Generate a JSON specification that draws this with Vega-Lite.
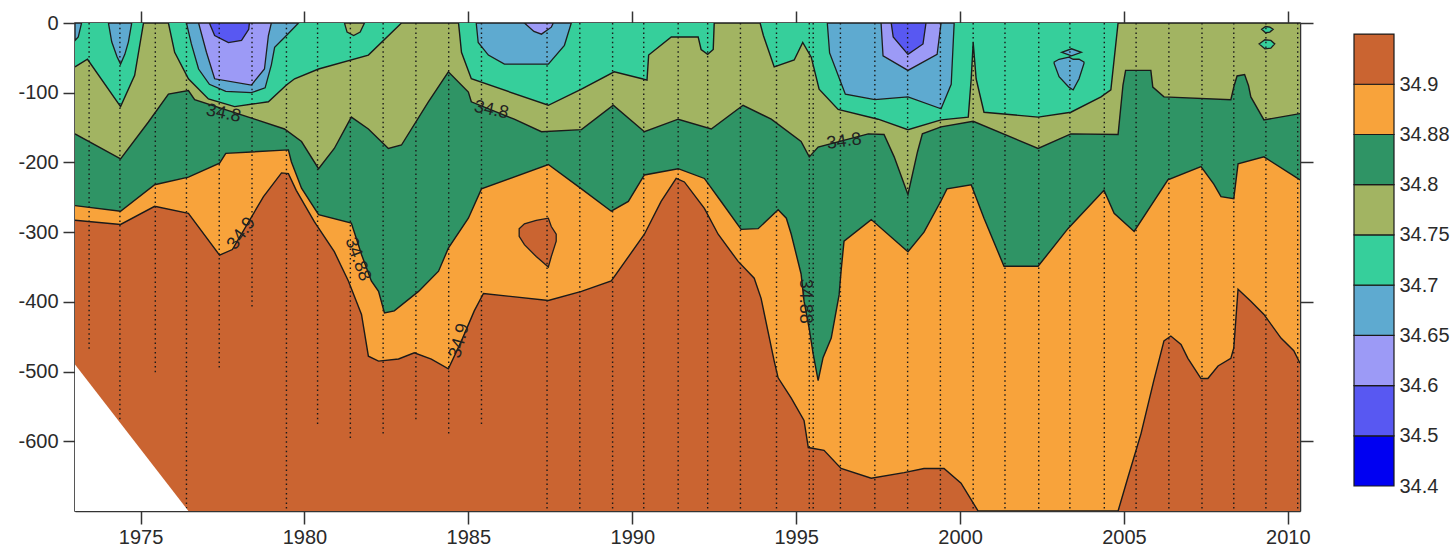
{
  "$schema": "https://vega.github.io/schema/vega-lite/v6.json",
  "padding": {"left": 17, "top": 9, "right": 0, "bottom": 0},
  "background": "white",
  "config": {
    "view": {"stroke": null},
    "font": "Liberation Sans",
    "axis": {"labelFont": "Liberation Sans", "labelFontSize": 20, "labelColor": "#2a2a2a", "domainColor": "#333333", "tickColor": "#333333", "grid": false, "domainWidth": 1.5, "tickWidth": 1.5, "labelOverlap": false, "labelFlush": false, "labelBound": false}
  },
  "datasets": {
    "bg": [{"year": 1973.0, "d": -700}, {"year": 2010.37, "d": -700}],
    "tri": [{"year": 1973.0, "top": -490, "bot": -700}, {"year": 1976.46, "top": -700, "bot": -700}],
    "c75": [
      {"year": 1973.0, "d": -63}, {"year": 1973.38, "d": -52}, {"year": 1974.39, "d": -120}, {"year": 1974.82, "d": -75},
      {"year": 1975.09, "d": 0}, {"year": 1975.85, "d": 0}, {"year": 1976.04, "d": -42}, {"year": 1976.46, "d": -80},
      {"year": 1977.07, "d": -109}, {"year": 1977.87, "d": -120}, {"year": 1978.9, "d": -113}, {"year": 1979.45, "d": -89},
      {"year": 1979.7, "d": -80}, {"year": 1980.43, "d": -66}, {"year": 1981.95, "d": -46}, {"year": 1982.96, "d": 0},
      {"year": 1984.7, "d": 0}, {"year": 1984.79, "d": -42}, {"year": 1985.09, "d": -80}, {"year": 1987.44, "d": -118},
      {"year": 1988.45, "d": -95}, {"year": 1989.45, "d": -70}, {"year": 1990.3, "d": -80}, {"year": 1990.45, "d": -82},
      {"year": 1990.5, "d": -46}, {"year": 1991.19, "d": -20}, {"year": 1992.01, "d": -20}, {"year": 1992.1, "d": -38},
      {"year": 1992.3, "d": -45}, {"year": 1992.47, "d": -38}, {"year": 1992.5, "d": 0}, {"year": 1993.9, "d": 0},
      {"year": 1994.0, "d": -18}, {"year": 1994.33, "d": -63}, {"year": 1994.94, "d": -53}, {"year": 1995.2, "d": -28},
      {"year": 1995.46, "d": -49}, {"year": 1995.7, "d": -95}, {"year": 1996.28, "d": -124}, {"year": 1997.5, "d": -138},
      {"year": 1998.41, "d": -153}, {"year": 1999.42, "d": -139}, {"year": 2000.25, "d": -135},
      {"year": 2000.34, "d": -80}, {"year": 2000.4, "d": -28}, {"year": 2000.49, "d": -80},
      {"year": 2000.73, "d": -128}, {"year": 2002.38, "d": -135}, {"year": 2003.38, "d": -128}, {"year": 2004.3, "d": -106},
      {"year": 2004.6, "d": -96}, {"year": 2004.82, "d": 0}, {"year": 2010.37, "d": 0}
    ],
    "c80": [
      {"year": 1973.0, "d": -159}, {"year": 1974.39, "d": -195}, {"year": 1975.24, "d": -142}, {"year": 1975.85, "d": -102},
      {"year": 1976.46, "d": -97}, {"year": 1976.65, "d": -110}, {"year": 1978.48, "d": -138}, {"year": 1979.39, "d": -152},
      {"year": 1979.91, "d": -170}, {"year": 1980.43, "d": -209}, {"year": 1980.91, "d": -180}, {"year": 1981.43, "d": -135},
      {"year": 1981.95, "d": -152}, {"year": 1982.56, "d": -180}, {"year": 1982.96, "d": -175}, {"year": 1983.78, "d": -113},
      {"year": 1984.39, "d": -70}, {"year": 1985.0, "d": -99}, {"year": 1985.09, "d": -113}, {"year": 1986.4, "d": -138},
      {"year": 1987.23, "d": -156}, {"year": 1988.45, "d": -153}, {"year": 1989.42, "d": -118}, {"year": 1990.37, "d": -156},
      {"year": 1991.4, "d": -138}, {"year": 1992.41, "d": -152}, {"year": 1993.38, "d": -118}, {"year": 1994.24, "d": -138},
      {"year": 1995.15, "d": -170}, {"year": 1995.4, "d": -192}, {"year": 1995.67, "d": -178}, {"year": 1997.2, "d": -159},
      {"year": 1997.68, "d": -160}, {"year": 1997.99, "d": -192}, {"year": 1998.41, "d": -246}, {"year": 1998.7, "d": -185},
      {"year": 1998.85, "d": -159}, {"year": 1999.42, "d": -149}, {"year": 2000.4, "d": -141},
      {"year": 2002.38, "d": -180}, {"year": 2003.38, "d": -159}, {"year": 2004.82, "d": -160}, {"year": 2004.97, "d": -89},
      {"year": 2005.05, "d": -68}, {"year": 2005.82, "d": -68}, {"year": 2005.88, "d": -92}, {"year": 2006.22, "d": -106},
      {"year": 2008.26, "d": -110}, {"year": 2008.36, "d": -90}, {"year": 2008.45, "d": -76}, {"year": 2008.68, "d": -74},
      {"year": 2008.8, "d": -90}, {"year": 2008.87, "d": -106}, {"year": 2009.27, "d": -139}, {"year": 2010.37, "d": -130}
    ],
    "c88": [
      {"year": 1973.0, "d": -262}, {"year": 1974.39, "d": -270}, {"year": 1975.43, "d": -232}, {"year": 1976.46, "d": -221},
      {"year": 1977.41, "d": -201}, {"year": 1977.6, "d": -187}, {"year": 1979.51, "d": -182}, {"year": 1979.6, "d": -199},
      {"year": 1979.91, "d": -237}, {"year": 1980.43, "d": -275}, {"year": 1981.43, "d": -287}, {"year": 1981.74, "d": -332},
      {"year": 1982.04, "d": -370}, {"year": 1982.26, "d": -385}, {"year": 1982.44, "d": -416}, {"year": 1982.74, "d": -413},
      {"year": 1983.48, "d": -385}, {"year": 1984.09, "d": -356}, {"year": 1984.39, "d": -323}, {"year": 1985.0, "d": -280},
      {"year": 1985.4, "d": -238}, {"year": 1987.44, "d": -203}, {"year": 1988.45, "d": -238}, {"year": 1989.36, "d": -270},
      {"year": 1989.88, "d": -256}, {"year": 1990.37, "d": -218}, {"year": 1991.4, "d": -209}, {"year": 1992.2, "d": -223},
      {"year": 1992.71, "d": -256}, {"year": 1993.32, "d": -296}, {"year": 1993.84, "d": -295}, {"year": 1994.45, "d": -268},
      {"year": 1994.7, "d": -280}, {"year": 1994.85, "d": -303}, {"year": 1995.15, "d": -360}, {"year": 1995.24, "d": -399},
      {"year": 1995.4, "d": -439}, {"year": 1995.52, "d": -475}, {"year": 1995.67, "d": -513}, {"year": 1995.82, "d": -480},
      {"year": 1996.07, "d": -452}, {"year": 1996.31, "d": -390}, {"year": 1996.37, "d": -356}, {"year": 1996.46, "d": -313},
      {"year": 1997.29, "d": -282}, {"year": 1998.41, "d": -328}, {"year": 1998.9, "d": -300}, {"year": 1999.42, "d": -255},
      {"year": 1999.6, "d": -238}, {"year": 2000.34, "d": -232}, {"year": 2000.73, "d": -280}, {"year": 2001.34, "d": -349},
      {"year": 2002.38, "d": -349}, {"year": 2003.29, "d": -295}, {"year": 2004.39, "d": -240}, {"year": 2004.7, "d": -273},
      {"year": 2005.31, "d": -299}, {"year": 2006.34, "d": -225}, {"year": 2007.35, "d": -206}, {"year": 2007.74, "d": -231},
      {"year": 2007.96, "d": -249}, {"year": 2008.35, "d": -252}, {"year": 2008.48, "d": -202}, {"year": 2009.27, "d": -192}, {"year": 2010.37, "d": -225}
    ],
    "c90": [
      {"year": 1973.0, "d": -283}, {"year": 1974.39, "d": -289}, {"year": 1975.43, "d": -263}, {"year": 1976.46, "d": -273},
      {"year": 1977.41, "d": -333}, {"year": 1977.8, "d": -325}, {"year": 1978.75, "d": -249}, {"year": 1979.3, "d": -215},
      {"year": 1979.51, "d": -216}, {"year": 1979.75, "d": -240}, {"year": 1980.3, "d": -285}, {"year": 1980.91, "d": -328},
      {"year": 1981.34, "d": -370}, {"year": 1981.74, "d": -418}, {"year": 1981.95, "d": -478}, {"year": 1982.26, "d": -485},
      {"year": 1982.87, "d": -482}, {"year": 1983.35, "d": -473}, {"year": 1983.87, "d": -482}, {"year": 1984.39, "d": -496},
      {"year": 1984.79, "d": -456}, {"year": 1985.18, "d": -413}, {"year": 1985.46, "d": -388}, {"year": 1987.44, "d": -398},
      {"year": 1988.45, "d": -385}, {"year": 1989.36, "d": -370}, {"year": 1990.37, "d": -303}, {"year": 1990.88, "d": -256},
      {"year": 1991.34, "d": -223}, {"year": 1991.59, "d": -228}, {"year": 1992.2, "d": -266}, {"year": 1992.62, "d": -303},
      {"year": 1993.23, "d": -342}, {"year": 1993.72, "d": -366}, {"year": 1993.93, "d": -395}, {"year": 1994.33, "d": -485},
      {"year": 1994.45, "d": -509}, {"year": 1994.85, "d": -538}, {"year": 1995.24, "d": -570}, {"year": 1995.37, "d": -609},
      {"year": 1995.85, "d": -613}, {"year": 1996.37, "d": -639}, {"year": 1997.29, "d": -653}, {"year": 1998.29, "d": -645},
      {"year": 1998.9, "d": -639}, {"year": 1999.51, "d": -639}, {"year": 2000.03, "d": -660}, {"year": 2000.55, "d": -700},
      {"year": 2004.82, "d": -700}, {"year": 2005.12, "d": -652}, {"year": 2005.52, "d": -589}, {"year": 2005.91, "d": -513},
      {"year": 2006.22, "d": -456}, {"year": 2006.43, "d": -449}, {"year": 2006.74, "d": -461}, {"year": 2006.95, "d": -481},
      {"year": 2007.35, "d": -510}, {"year": 2007.56, "d": -510}, {"year": 2007.87, "d": -492}, {"year": 2008.26, "d": -481},
      {"year": 2008.35, "d": -466}, {"year": 2008.48, "d": -382}, {"year": 2008.87, "d": -399}, {"year": 2009.27, "d": -418},
      {"year": 2009.79, "d": -452}, {"year": 2010.18, "d": -470}, {"year": 2010.37, "d": -488}
    ],
    "bBr": [
      {"id": "a", "year": 1986.55, "top": -295, "bot": -306}, {"id": "a", "year": 1986.71, "top": -288, "bot": -318},
      {"id": "a", "year": 1987.07, "top": -283, "bot": -335}, {"id": "a", "year": 1987.44, "top": -280, "bot": -350},
      {"id": "a", "year": 1987.53, "top": -292, "bot": -335}, {"id": "a", "year": 1987.68, "top": -303, "bot": -313}
    ],
    "bOl": [
      {"id": "a", "year": 1981.22, "top": 0, "bot": 0}, {"id": "a", "year": 1981.3, "top": 0, "bot": -13},
      {"id": "a", "year": 1981.5, "top": 0, "bot": -18}, {"id": "a", "year": 1981.7, "top": 0, "bot": -13},
      {"id": "a", "year": 1981.83, "top": 0, "bot": 0}
    ],
    "bTe": [
      {"id": "f1", "year": 2009.2, "top": -9, "bot": -9}, {"id": "f1", "year": 2009.32, "top": -5, "bot": -14},
      {"id": "f1", "year": 2009.45, "top": -6, "bot": -13}, {"id": "f1", "year": 2009.55, "top": -9, "bot": -9},
      {"id": "f2", "year": 2009.12, "top": -30, "bot": -30}, {"id": "f2", "year": 2009.3, "top": -24, "bot": -37},
      {"id": "f2", "year": 2009.48, "top": -25, "bot": -36}, {"id": "f2", "year": 2009.6, "top": -30, "bot": -30}
    ],
    "b70": [
      {"id": "a0", "year": 1973.0, "top": 0, "bot": -25}, {"id": "a0", "year": 1973.1, "top": 0, "bot": -20}, {"id": "a0", "year": 1973.2, "top": 0, "bot": 0},
      {"id": "a", "year": 1974.02, "top": 0, "bot": 0}, {"id": "a", "year": 1974.12, "top": 0, "bot": -27}, {"id": "a", "year": 1974.28, "top": 0, "bot": -48},
      {"id": "a", "year": 1974.39, "top": 0, "bot": -59}, {"id": "a", "year": 1974.52, "top": 0, "bot": -45}, {"id": "a", "year": 1974.63, "top": 0, "bot": -27},
      {"id": "a", "year": 1974.73, "top": 0, "bot": 0},
      {"id": "b", "year": 1976.4, "top": 0, "bot": 0}, {"id": "b", "year": 1976.55, "top": 0, "bot": -30}, {"id": "b", "year": 1976.77, "top": 0, "bot": -66},
      {"id": "b", "year": 1977.1, "top": 0, "bot": -88}, {"id": "b", "year": 1977.6, "top": 0, "bot": -98}, {"id": "b", "year": 1978.38, "top": 0, "bot": -100},
      {"id": "b", "year": 1978.8, "top": 0, "bot": -93}, {"id": "b", "year": 1978.99, "top": 0, "bot": -60}, {"id": "b", "year": 1979.09, "top": 0, "bot": -35},
      {"id": "b", "year": 1979.45, "top": 0, "bot": -18}, {"id": "b", "year": 1979.82, "top": 0, "bot": 0},
      {"id": "c", "year": 1985.24, "top": 0, "bot": 0}, {"id": "c", "year": 1985.3, "top": 0, "bot": -28}, {"id": "c", "year": 1985.61, "top": 0, "bot": -46},
      {"id": "c", "year": 1986.1, "top": 0, "bot": -59}, {"id": "c", "year": 1987.44, "top": 0, "bot": -59}, {"id": "c", "year": 1987.93, "top": 0, "bot": -32},
      {"id": "c", "year": 1988.14, "top": 0, "bot": 0},
      {"id": "d", "year": 1995.95, "top": 0, "bot": 0}, {"id": "d", "year": 1996.02, "top": 0, "bot": -43}, {"id": "d", "year": 1996.37, "top": 0, "bot": -86},
      {"id": "d", "year": 1996.5, "top": 0, "bot": -102}, {"id": "d", "year": 1997.4, "top": 0, "bot": -110}, {"id": "d", "year": 1998.41, "top": 0, "bot": -106},
      {"id": "d", "year": 1999.42, "top": 0, "bot": -123}, {"id": "d", "year": 1999.73, "top": 0, "bot": -88}, {"id": "d", "year": 1999.82, "top": 0, "bot": 0},
      {"id": "e", "year": 2002.87, "top": -56, "bot": -58}, {"id": "e", "year": 2003.02, "top": -52, "bot": -77}, {"id": "e", "year": 2003.32, "top": -49, "bot": -92},
      {"id": "e", "year": 2003.45, "top": -52, "bot": -96}, {"id": "e", "year": 2003.63, "top": -52, "bot": -80}, {"id": "e", "year": 2003.78, "top": -56, "bot": -58},
      {"id": "e2", "year": 2003.1, "top": -42, "bot": -42}, {"id": "e2", "year": 2003.4, "top": -37, "bot": -47}, {"id": "e2", "year": 2003.7, "top": -42, "bot": -42}
    ],
    "b65": [
      {"id": "b", "year": 1976.77, "top": 0, "bot": 0}, {"id": "b", "year": 1977.01, "top": 0, "bot": -42}, {"id": "b", "year": 1977.26, "top": 0, "bot": -80},
      {"id": "b", "year": 1978.38, "top": 0, "bot": -89}, {"id": "b", "year": 1978.78, "top": 0, "bot": -66}, {"id": "b", "year": 1978.9, "top": 0, "bot": -18},
      {"id": "b", "year": 1978.99, "top": 0, "bot": 0},
      {"id": "c", "year": 1986.71, "top": 0, "bot": 0}, {"id": "c", "year": 1987.0, "top": 0, "bot": -12}, {"id": "c", "year": 1987.23, "top": 0, "bot": -16},
      {"id": "c", "year": 1987.53, "top": 0, "bot": -6}, {"id": "c", "year": 1987.59, "top": 0, "bot": 0},
      {"id": "d", "year": 1997.59, "top": 0, "bot": 0}, {"id": "d", "year": 1997.65, "top": 0, "bot": -47}, {"id": "d", "year": 1998.41, "top": 0, "bot": -68},
      {"id": "d", "year": 1999.3, "top": 0, "bot": -45}, {"id": "d", "year": 1999.42, "top": 0, "bot": 0}
    ],
    "b60": [
      {"id": "b", "year": 1977.1, "top": 0, "bot": 0}, {"id": "b", "year": 1977.26, "top": 0, "bot": -18}, {"id": "b", "year": 1977.68, "top": 0, "bot": -28},
      {"id": "b", "year": 1978.08, "top": 0, "bot": -25}, {"id": "b", "year": 1978.3, "top": 0, "bot": -9}, {"id": "b", "year": 1978.32, "top": 0, "bot": 0},
      {"id": "d", "year": 1997.9, "top": 0, "bot": 0}, {"id": "d", "year": 1997.96, "top": 0, "bot": -20}, {"id": "d", "year": 1998.41, "top": 0, "bot": -45},
      {"id": "d", "year": 1998.87, "top": 0, "bot": -30}, {"id": "d", "year": 1998.96, "top": 0, "bot": 0}
    ],
    "st": [
      {"year": 1973.43, "top": 0, "bot": -471}, {"year": 1974.37, "top": 0, "bot": -570}, {"year": 1975.45, "top": 0, "bot": -503}, {"year": 1976.4, "top": 0, "bot": -700},
      {"year": 1977.4, "top": 0, "bot": -497}, {"year": 1978.4, "top": 0, "bot": -411}, {"year": 1979.45, "top": 0, "bot": -700}, {"year": 1980.4, "top": 0, "bot": -579},
      {"year": 1981.4, "top": 0, "bot": -597}, {"year": 1982.4, "top": 0, "bot": -593}, {"year": 1983.4, "top": 0, "bot": -569}, {"year": 1984.4, "top": 0, "bot": -593},
      {"year": 1985.4, "top": 0, "bot": -576}, {"year": 1987.4, "top": 0, "bot": -700}, {"year": 1988.4, "top": 0, "bot": -700}, {"year": 1989.4, "top": 0, "bot": -700},
      {"year": 1990.35, "top": 0, "bot": -700}, {"year": 1991.4, "top": 0, "bot": -700}, {"year": 1992.3, "top": 0, "bot": -700}, {"year": 1993.3, "top": 0, "bot": -700},
      {"year": 1994.4, "top": 0, "bot": -700}, {"year": 1995.4, "top": 0, "bot": -700}, {"year": 1995.52, "top": 0, "bot": -700}, {"year": 1996.35, "top": 0, "bot": -700},
      {"year": 1997.4, "top": 0, "bot": -700}, {"year": 1998.4, "top": 0, "bot": -700}, {"year": 1999.4, "top": 0, "bot": -700}, {"year": 2000.4, "top": 0, "bot": -700},
      {"year": 2001.37, "top": 0, "bot": -700}, {"year": 2002.4, "top": 0, "bot": -700}, {"year": 2003.35, "top": 0, "bot": -700}, {"year": 2004.4, "top": 0, "bot": -700},
      {"year": 2005.37, "top": 0, "bot": -700}, {"year": 2006.37, "top": 0, "bot": -700}, {"year": 2007.38, "top": 0, "bot": -700}, {"year": 2008.35, "top": 0, "bot": -700},
      {"year": 2009.33, "top": 0, "bot": -700}, {"year": 2010.3, "top": 0, "bot": -700}
    ],
    "labs": [
      {"k": "a", "year": 1977.53, "d": -130, "t": "34.8"}, {"k": "a", "year": 1985.7, "d": -125, "t": "34.8"},
      {"k": "b", "year": 1996.46, "d": -170, "t": "34.8"}, {"k": "c", "year": 1978.08, "d": -302, "t": "34.9"},
      {"k": "d", "year": 1981.62, "d": -339, "t": "34.88"}, {"k": "e", "year": 1984.73, "d": -456, "t": "34.9"},
      {"k": "f", "year": 1995.27, "d": -399, "t": "34.88"}
    ],
    "bar": [
      {"lo": 0, "hi": 1, "band": "34.4-34.5"}, {"lo": 1, "hi": 2, "band": "34.5-34.6"}, {"lo": 2, "hi": 3, "band": "34.6-34.65"},
      {"lo": 3, "hi": 4, "band": "34.65-34.7"}, {"lo": 4, "hi": 5, "band": "34.7-34.75"}, {"lo": 5, "hi": 6, "band": "34.75-34.8"},
      {"lo": 6, "hi": 7, "band": "34.8-34.88"}, {"lo": 7, "hi": 8, "band": "34.88-34.9"}, {"lo": 8, "hi": 9, "band": ">34.9"}
    ]
  },
  "spacing": 38,
  "hconcat": [
    {
      "width": 1225,
      "height": 488,
      "view": {"stroke": "#333333", "strokeWidth": 1.5},
      "resolve": {"axis": {"x": "independent", "y": "independent"}},
      "layer": [
        {
          "data": {"name": "bg"},
          "mark": {"type": "area", "color": "#CA6431", "clip": true},
          "encoding": {
            "x": {"field": "year", "type": "quantitative", "scale": {"domain": [1973.0, 2010.37], "nice": false, "zero": false},
                  "axis": {"orient": "bottom", "title": null, "values": [1975, 1980, 1985, 1990, 1995, 2000, 2005, 2010], "format": "d", "tickSize": 13, "labelPadding": 3}},
            "y": {"field": "d", "type": "quantitative", "stack": null, "scale": {"domain": [-700, 0], "nice": false, "zero": false},
                  "axis": {"orient": "left", "title": null, "values": [-600, -500, -400, -300, -200, -100, 0], "tickSize": 12, "labelPadding": 5,
                           "labelExpr": "datum.value == 0 ? '0' : '-' + abs(datum.value)"}}
          }
        },
        {
          "data": {"name": "c90"},
          "mark": {"type": "area", "color": "#F8A33B", "clip": true},
          "encoding": {"x": {"field": "year", "type": "quantitative", "axis": null}, "y": {"field": "d", "type": "quantitative", "stack": null, "axis": null}}
        },
        {
          "data": {"name": "c88"},
          "mark": {"type": "area", "color": "#2F9465", "clip": true},
          "encoding": {"x": {"field": "year", "type": "quantitative", "axis": null}, "y": {"field": "d", "type": "quantitative", "stack": null, "axis": null}}
        },
        {
          "data": {"name": "c80"},
          "mark": {"type": "area", "color": "#A2B462", "clip": true},
          "encoding": {"x": {"field": "year", "type": "quantitative", "axis": null}, "y": {"field": "d", "type": "quantitative", "stack": null, "axis": null}}
        },
        {
          "data": {"name": "c75"},
          "mark": {"type": "area", "color": "#36CF9B", "clip": true},
          "encoding": {"x": {"field": "year", "type": "quantitative", "axis": null}, "y": {"field": "d", "type": "quantitative", "stack": null, "axis": null}}
        },
        {
          "data": {"name": "bOl"},
          "mark": {"type": "area", "color": "#A2B462", "stroke": "#1e1e1e", "strokeWidth": 1.3, "clip": true},
          "encoding": {"x": {"field": "year", "type": "quantitative", "axis": null}, "y": {"field": "top", "type": "quantitative", "stack": null, "axis": null}, "y2": {"field": "bot"}, "detail": {"field": "id", "type": "nominal"}}
        },
        {
          "data": {"name": "bBr"},
          "mark": {"type": "area", "color": "#CA6431", "stroke": "#1e1e1e", "strokeWidth": 1.3, "clip": true},
          "encoding": {"x": {"field": "year", "type": "quantitative", "axis": null}, "y": {"field": "top", "type": "quantitative", "stack": null, "axis": null}, "y2": {"field": "bot"}, "detail": {"field": "id", "type": "nominal"}}
        },
        {
          "data": {"name": "c75"},
          "mark": {"type": "line", "color": "#1a1a1a", "strokeWidth": 1.4, "clip": true},
          "encoding": {"x": {"field": "year", "type": "quantitative", "axis": null}, "y": {"field": "d", "type": "quantitative", "axis": null}}
        },
        {
          "data": {"name": "c80"},
          "mark": {"type": "line", "color": "#1a1a1a", "strokeWidth": 1.4, "clip": true},
          "encoding": {"x": {"field": "year", "type": "quantitative", "axis": null}, "y": {"field": "d", "type": "quantitative", "axis": null}}
        },
        {
          "data": {"name": "c88"},
          "mark": {"type": "line", "color": "#1a1a1a", "strokeWidth": 1.4, "clip": true},
          "encoding": {"x": {"field": "year", "type": "quantitative", "axis": null}, "y": {"field": "d", "type": "quantitative", "axis": null}}
        },
        {
          "data": {"name": "c90"},
          "mark": {"type": "line", "color": "#1a1a1a", "strokeWidth": 1.4, "clip": true},
          "encoding": {"x": {"field": "year", "type": "quantitative", "axis": null}, "y": {"field": "d", "type": "quantitative", "axis": null}}
        },
        {
          "data": {"name": "b70"},
          "mark": {"type": "area", "color": "#5EAAD0", "stroke": "#1e1e1e", "strokeWidth": 1.3, "clip": true},
          "encoding": {"x": {"field": "year", "type": "quantitative", "axis": null}, "y": {"field": "top", "type": "quantitative", "stack": null, "axis": null}, "y2": {"field": "bot"}, "detail": {"field": "id", "type": "nominal"}}
        },
        {
          "data": {"name": "b65"},
          "mark": {"type": "area", "color": "#9C9AF6", "stroke": "#1e1e1e", "strokeWidth": 1.3, "clip": true},
          "encoding": {"x": {"field": "year", "type": "quantitative", "axis": null}, "y": {"field": "top", "type": "quantitative", "stack": null, "axis": null}, "y2": {"field": "bot"}, "detail": {"field": "id", "type": "nominal"}}
        },
        {
          "data": {"name": "b60"},
          "mark": {"type": "area", "color": "#5858F2", "stroke": "#1e1e1e", "strokeWidth": 1.3, "clip": true},
          "encoding": {"x": {"field": "year", "type": "quantitative", "axis": null}, "y": {"field": "top", "type": "quantitative", "stack": null, "axis": null}, "y2": {"field": "bot"}, "detail": {"field": "id", "type": "nominal"}}
        },
        {
          "data": {"name": "bTe"},
          "mark": {"type": "area", "color": "#36CF9B", "stroke": "#1e1e1e", "strokeWidth": 1.3, "clip": true},
          "encoding": {"x": {"field": "year", "type": "quantitative", "axis": null}, "y": {"field": "top", "type": "quantitative", "stack": null, "axis": null}, "y2": {"field": "bot"}, "detail": {"field": "id", "type": "nominal"}}
        },
        {
          "data": {"name": "st"},
          "mark": {"type": "rule", "color": "#1a1a1a", "strokeWidth": 1.4, "strokeDash": [1.5, 3.2], "clip": true},
          "encoding": {"x": {"field": "year", "type": "quantitative", "axis": null}, "y": {"field": "top", "type": "quantitative", "axis": null}, "y2": {"field": "bot"}}
        },
        {
          "data": {"name": "tri"},
          "mark": {"type": "area", "color": "white", "clip": true},
          "encoding": {
            "x": {"field": "year", "type": "quantitative",
                  "axis": {"orient": "top", "title": null, "values": [1975, 1980, 1985, 1990, 1995, 2000, 2005, 2010], "labels": false, "tickSize": 12}},
            "y": {"field": "top", "type": "quantitative", "stack": null,
                  "axis": {"orient": "right", "title": null, "values": [-600, -400, -200, 0], "labels": false, "tickSize": 13}},
            "y2": {"field": "bot"}
          }
        },
        {
          "data": {"name": "labs"},
          "transform": [{"filter": "datum.k == 'a'"}],
          "mark": {"type": "text", "fontSize": 18, "color": "#222222", "angle": 12},
          "encoding": {"x": {"field": "year", "type": "quantitative", "axis": null}, "y": {"field": "d", "type": "quantitative", "axis": null}, "text": {"field": "t", "type": "nominal"}}
        },
        {
          "data": {"name": "labs"},
          "transform": [{"filter": "datum.k == 'b'"}],
          "mark": {"type": "text", "fontSize": 18, "color": "#222222", "angle": -8},
          "encoding": {"x": {"field": "year", "type": "quantitative", "axis": null}, "y": {"field": "d", "type": "quantitative", "axis": null}, "text": {"field": "t", "type": "nominal"}}
        },
        {
          "data": {"name": "labs"},
          "transform": [{"filter": "datum.k == 'c'"}],
          "mark": {"type": "text", "fontSize": 18, "color": "#222222", "angle": -54},
          "encoding": {"x": {"field": "year", "type": "quantitative", "axis": null}, "y": {"field": "d", "type": "quantitative", "axis": null}, "text": {"field": "t", "type": "nominal"}}
        },
        {
          "data": {"name": "labs"},
          "transform": [{"filter": "datum.k == 'd'"}],
          "mark": {"type": "text", "fontSize": 18, "color": "#222222", "angle": 70},
          "encoding": {"x": {"field": "year", "type": "quantitative", "axis": null}, "y": {"field": "d", "type": "quantitative", "axis": null}, "text": {"field": "t", "type": "nominal"}}
        },
        {
          "data": {"name": "labs"},
          "transform": [{"filter": "datum.k == 'e'"}],
          "mark": {"type": "text", "fontSize": 18, "color": "#222222", "angle": -75},
          "encoding": {"x": {"field": "year", "type": "quantitative", "axis": null}, "y": {"field": "d", "type": "quantitative", "axis": null}, "text": {"field": "t", "type": "nominal"}}
        },
        {
          "data": {"name": "labs"},
          "transform": [{"filter": "datum.k == 'f'"}],
          "mark": {"type": "text", "fontSize": 18, "color": "#222222", "angle": 90},
          "encoding": {"x": {"field": "year", "type": "quantitative", "axis": null}, "y": {"field": "d", "type": "quantitative", "axis": null}, "text": {"field": "t", "type": "nominal"}}
        }
      ]
    },
    {
      "width": 40,
      "height": 463,
      "data": {"name": "bar"},
      "mark": {"type": "rect", "stroke": "#1a1a1a", "strokeWidth": 1.2},
      "encoding": {
        "y": {"field": "lo", "type": "quantitative", "scale": {"domain": [0, 9.22], "nice": false, "zero": false},
              "axis": {"orient": "right", "title": null, "values": [0, 1, 2, 3, 4, 5, 6, 7, 8], "ticks": false, "domain": false, "labelPadding": 5,
                       "labelExpr": "['34.4','34.5','34.6','34.65','34.7','34.75','34.8','34.88','34.9'][datum.value]"}},
        "y2": {"field": "hi"},
        "color": {"field": "band", "type": "nominal", "legend": null,
                  "scale": {"domain": ["34.4-34.5", "34.5-34.6", "34.6-34.65", "34.65-34.7", "34.7-34.75", "34.75-34.8", "34.8-34.88", "34.88-34.9", ">34.9"],
                            "range": ["#0000F2", "#5858F2", "#9C9AF6", "#5EAAD0", "#36CF9B", "#A2B462", "#2F9465", "#F8A33B", "#CA6431"]}}
      }
    }
  ]
}
